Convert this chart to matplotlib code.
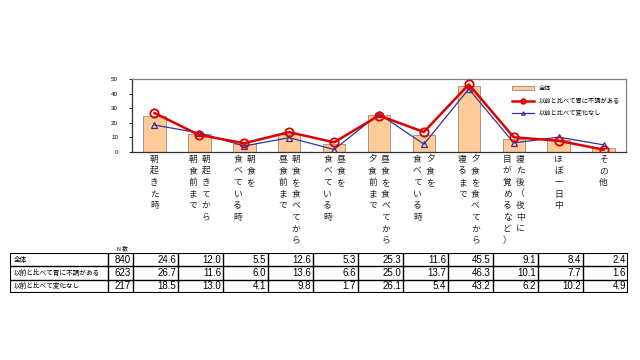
import matplotlib.pyplot as plt
import matplotlib.transforms as mtransforms
import numpy as np

# %%
# datos
categorias = [
    ["朝起きた時"],
    ["朝起きてから", "朝食前まで"],
    ["朝食を", "食べている時"],
    ["朝食を食べてから", "昼食前まで"],
    ["昼食を", "食べている時"],
    ["昼食を食べてから", "夕食前まで"],
    ["夕食を", "食べている時"],
    ["夕食を食べてから", "寝るまで"],
    ["寝た後（夜中に", "目が覚めるなど）"],
    ["ほぼ一日中"],
    ["その他"],
]
series_names = ["全体", "以前と比べて胃に不調がある", "以前と比べて変化なし"]
n_counts = [840, 623, 217]
total = [24.6, 12.0, 5.5, 12.6, 5.3, 25.3, 11.6, 45.5, 9.1, 8.4, 2.4]
fuchou = [26.7, 11.6, 6.0, 13.6, 6.6, 25.0, 13.7, 46.3, 10.1, 7.7, 1.6]
henka_nashi = [18.5, 13.0, 4.1, 9.8, 1.7, 26.1, 5.4, 43.2, 6.2, 10.2, 4.9]
yticks = [0, 10, 20, 30, 40, 50]

JP = "Noto Sans CJK JP"
NUM = "Liberation Sans"

# %%
W, H = 640, 360
fig = plt.figure(figsize=(W / 100, H / 100), dpi=100)
fig.patch.set_facecolor("white")

# zona del grafico en pixeles
ax = fig.add_axes([132 / W, 1 - 152 / H, (626 - 132) / W, (152 - 79) / H])
x = np.arange(len(total))

b = ax.bar(x, total, width=0.5, color="#FFCC99", edgecolor="#9a8a7a", linewidth=0.6,
           label=series_names[0], zorder=2)
l1, = ax.plot(x, fuchou, color="#DD0000", lw=1.8, marker="o", ms=6, mfc="none",
              mec="#DD0000", mew=1.3, label=series_names[1], zorder=4)
l2, = ax.plot(x, henka_nashi, color="#333399", lw=0.9, marker="^", ms=4.5, mfc="none",
              mec="#333399", mew=0.9, label=series_names[2], zorder=3)

ax.set_xlim(-0.5, len(total) - 0.5)
ax.set_ylim(0, 50)
ax.set_yticks(yticks)
ax.set_yticklabels([str(t) for t in yticks], fontsize=4.5, family=NUM)
ax.tick_params(axis="y", length=2, width=0.6, pad=8)
ax.set_xticks([])
for s in ax.spines.values():
    s.set_color("#808080")
    s.set_linewidth(0.9)
ax.spines["left"].set_color("#333333")
ax.spines["bottom"].set_color("#333333")

ax.legend([b, l1, l2], series_names, loc="upper right", bbox_to_anchor=(0.995, 0.98),
          frameon=False, prop={"family": JP, "size": 4.5}, handlelength=3.4,
          handleheight=0.7, labelspacing=0.75, borderaxespad=0.2, markerscale=0.55)

# etiquetas verticales (columnas de derecha a izquierda)
pitch = 11.7
col_gap = 13
for i, cols in enumerate(categorias):
    n = len(cols)
    for j, col in enumerate(cols):
        dx = ((n - 1) / 2 - j) * col_gap
        for k, ch in enumerate(col):
            tr = mtransforms.offset_copy(ax.get_xaxis_transform(), fig=fig,
                                         x=dx, y=-(7 + k * pitch), units="dots")
            ax.text(i, 0, ch, transform=tr, ha="center", va="center",
                    fontsize=6.3, family=JP, color="#222222")

# %%
# tabla
tab = fig.add_axes([10 / W, 1 - 293 / H, (628 - 10) / W, (293 - 253) / H])
tab.set_xlim(0, 618)
tab.set_ylim(3, 0)
tab.axis("off")
edges = [0, 98, 123] + [123 + 45 * (i + 1) for i in range(len(total))]
edges[-1] = 618
rows = [total, fuchou, henka_nashi]
for r in range(4):
    tab.plot([0, 618], [r, r], color="black", lw=1.5 if r in (0, 3) else 1.0,
             solid_capstyle="butt")
for e in edges:
    tab.plot([e, e], [0, 3], color="black", lw=1.5 if e in (0, 618) else 1.0,
             solid_capstyle="butt")
for r, vals in enumerate(rows):
    tab.text(4, r + 0.5, series_names[r], ha="left", va="center",
             fontsize=4.8, family=JP)
    tab.text(edges[2] - 2, r + 0.5, str(n_counts[r]), ha="right", va="center",
             fontsize=7, family=NUM)
    for c, v in enumerate(vals):
        tab.text(edges[c + 3] - 2, r + 0.5, f"{v:.1f}", ha="right", va="center",
                 fontsize=7, family=NUM)

fig.text(122 / W, 1 - 248 / H, "N 数", ha="center", va="center", fontsize=4,
         family=JP)

fig.savefig("out.png", dpi=100)
